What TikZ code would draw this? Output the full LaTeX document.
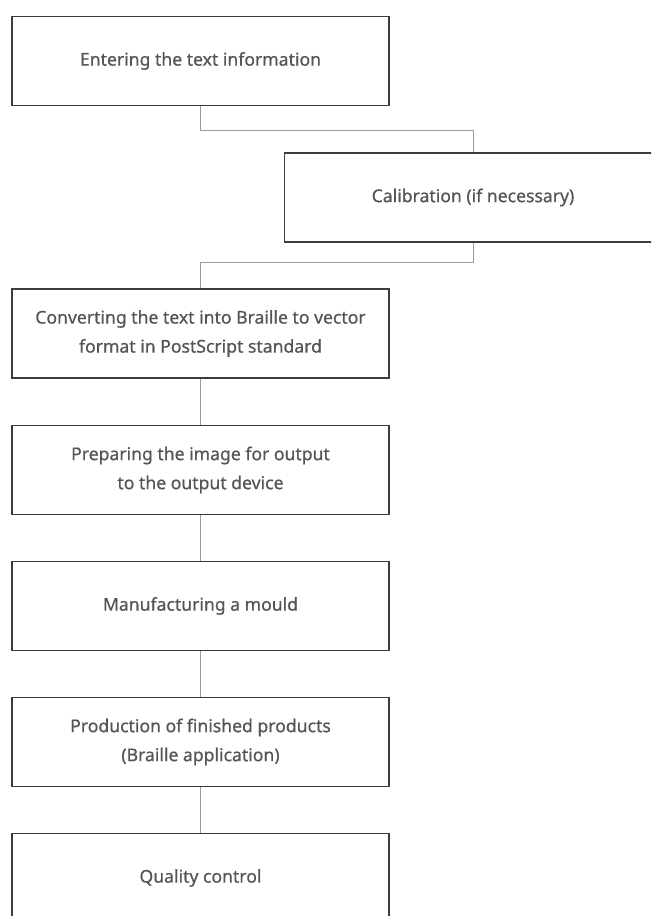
\documentclass[tikz,border=0pt]{standalone}
\usepackage{fontspec}
\setmainfont{Noto Sans}
\newfontfamily\boxfont[FakeBold=0.6]{Noto Sans}
\definecolor{txt}{HTML}{555555}
\definecolor{bord}{HTML}{3C3C3C}
\definecolor{conn}{HTML}{9A9A9A}
\begin{document}
\begin{tikzpicture}[x=1pt,y=-1pt,
  stepbox/.style={draw=bord,line width=1.3pt,fill=white,minimum width=377pt,minimum height=89pt,
    inner sep=0pt,align=center,text=txt,font=\boxfont\fontsize{17.6}{29}\selectfont},
  link/.style={draw=conn,line width=1pt}]
\useasboundingbox (0,0) rectangle (651,916);
\clip (0,0) rectangle (651,916);
\node[stepbox] (a) at (200.5,61) {Entering the text information};
\node[stepbox] (b) at (473,197.5) {Calibration (if necessary)};
\node[stepbox] (c) at (200.5,333.5) {Converting the text into Braille to vector\\format in PostScript standard};
\node[stepbox] (d) at (200.5,470) {Preparing the image for output\\to the output device};
\node[stepbox] (e) at (200.5,606) {Manufacturing a mould};
\node[stepbox] (f) at (200.5,742) {Production of finished products\\(Braille application)};
\node[stepbox] (g) at (200.5,878) {Quality control};
\draw[link] (a.south) -- ++(0,24) -| (b.north);
\draw[link] (b.south) -- ++(0,19.5) -| (c.north);
\draw[link] (c) -- (d);
\draw[link] (d) -- (e);
\draw[link] (e) -- (f);
\draw[link] (f) -- (g);
\end{tikzpicture}
\end{document}
